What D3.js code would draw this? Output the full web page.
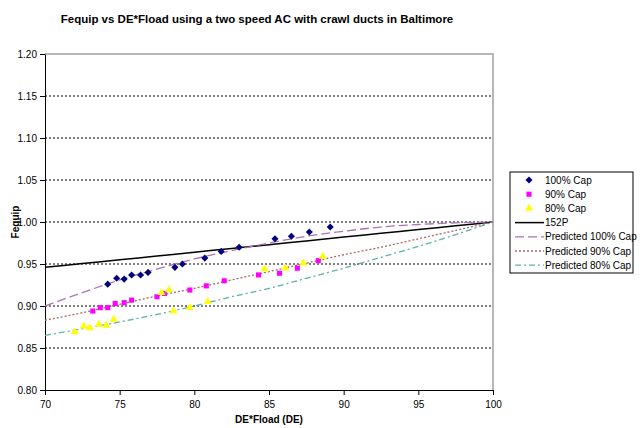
<!DOCTYPE html>
<html>
<head>
  <meta charset="utf-8">
  <title>Fequip vs DE*Fload</title>
  <script src="https://d3js.org/d3.v7.min.js"></script>
  <style>
    body { margin: 0; background: #fff; }
    text { font-family: Arial, "Liberation Sans", sans-serif; fill: #000; }
    .tick text { font-size: 10px; }
  </style>
</head>
<body>
<script>
  const width = 640;
  const height = 428;

  // measured points
  const cap100X = [74.2, 74.8, 75.3, 75.8, 76.4, 76.9, 78.7, 79.2, 80.7, 81.8, 83.0, 85.4, 86.5, 87.7, 89.1];
  const cap100Y = [0.926, 0.933, 0.932, 0.937, 0.937, 0.940, 0.946, 0.950, 0.957, 0.965, 0.970, 0.980, 0.983, 0.988, 0.994];
  const cap90X = [73.2, 73.7, 74.2, 74.7, 75.3, 75.8, 77.5, 78.0, 79.7, 80.8, 82.0, 84.3, 85.7, 86.9, 88.3];
  const cap90Y = [0.894, 0.898, 0.898, 0.903, 0.904, 0.907, 0.911, 0.915, 0.919, 0.924, 0.930, 0.937, 0.939, 0.945, 0.954];
  const cap80X = [72.0, 72.6, 73.0, 73.6, 74.1, 74.6, 77.8, 78.3, 78.6, 79.7, 80.9, 84.7, 86.1, 87.3, 88.6];
  const cap80Y = [0.869, 0.876, 0.874, 0.878, 0.877, 0.884, 0.916, 0.919, 0.894, 0.898, 0.905, 0.944, 0.945, 0.951, 0.959];

  // curves
  const curveX = [70, 72.5, 75, 77.5, 80, 82.5, 85, 87.5, 90, 92.5, 95, 97.5, 100];
  const line152P = [0.9460, 0.9505, 0.9550, 0.9595, 0.9640, 0.9685, 0.9730, 0.9775, 0.9820, 0.9865, 0.9910, 0.9955, 1.0000];
  const pred100 = [0.900, 0.916, 0.931, 0.944, 0.956, 0.966, 0.975, 0.983, 0.989, 0.994, 0.997, 0.999, 1.000];
  const pred90 = [0.883, 0.892, 0.902, 0.912, 0.921, 0.931, 0.941, 0.951, 0.961, 0.970, 0.980, 0.990, 1.000];
  const pred80 = [0.865, 0.873, 0.881, 0.890, 0.900, 0.911, 0.921, 0.933, 0.945, 0.958, 0.971, 0.985, 1.000];

  const xTicks = [70, 75, 80, 85, 90, 95, 100];
  const yTicks = [0.80, 0.85, 0.90, 0.95, 1.00, 1.05, 1.10, 1.15, 1.20];

  const plotL = 45, plotR = 493, plotT = 54, plotB = 390;

  const x = d3.scaleLinear().domain([70, 100]).range([plotL, plotR]);
  const y = d3.scaleLinear().domain([0.8, 1.2]).range([plotB, plotT]);

  const svg = d3.select("body").append("svg")
    .attr("width", width)
    .attr("height", height);

  svg.append("rect").attr("width", width).attr("height", height).attr("fill", "#fff");

  // grid
  svg.append("g")
    .selectAll("line")
    .data(yTicks.filter(v => v > 0.8 && v < 1.2))
    .join("line")
    .attr("x1", plotL).attr("x2", plotR)
    .attr("y1", d => y(d)).attr("y2", d => y(d))
    .attr("stroke", "#000")
    .attr("stroke-dasharray", "2,2");

  // plot border (top/right)
  svg.append("path")
    .attr("d", `M${plotL},${plotT}H${plotR}V${plotB}`)
    .attr("fill", "none")
    .attr("stroke", "#a0a0a0")
    .attr("stroke-width", 1.5);

  // axes
  const xAxis = svg.append("g")
    .attr("transform", `translate(0,${plotB})`)
    .call(d3.axisBottom(x).tickValues(xTicks).tickSize(5).tickPadding(6).tickSizeOuter(0));
  const yAxis = svg.append("g")
    .attr("transform", `translate(${plotL},0)`)
    .call(d3.axisLeft(y).tickValues(yTicks).tickFormat(d3.format(".2f")).tickSize(5).tickPadding(3).tickSizeOuter(0));
  [xAxis, yAxis].forEach(a => {
    a.select(".domain").attr("stroke", "#000");
    a.selectAll(".tick line").attr("stroke", "#000");
    a.selectAll(".tick text").style("font-family", "Arial, 'Liberation Sans', sans-serif").attr("fill", "#000");
  });

  // lines
  const lineGen = d3.line()
    .x((d, i) => x(curveX[i]))
    .y(d => y(d))
    .curve(d3.curveMonotoneX);

  const lines = [
    {name: "152P", values: line152P, color: "#000", width: 1.5, dash: null},
    {name: "Predicted 100% Cap", values: pred100, color: "#b070b8", width: 1.3, dash: "9,4"},
    {name: "Predicted 90% Cap", values: pred90, color: "#a86868", width: 1.3, dash: "2,2"},
    {name: "Predicted 80% Cap", values: pred80, color: "#5fb0a8", width: 1.3, dash: "6,3,2,3"}
  ];

  svg.append("clipPath").attr("id", "clip")
    .append("rect").attr("x", plotL).attr("y", plotT).attr("width", plotR - plotL).attr("height", plotB - plotT);

  svg.append("g").attr("clip-path", "url(#clip)")
    .selectAll("path")
    .data(lines)
    .join("path")
    .attr("d", d => lineGen(d.values))
    .attr("fill", "none")
    .attr("stroke", d => d.color)
    .attr("stroke-width", d => d.width)
    .attr("stroke-dasharray", d => d.dash);

  // points
  const series = [
    {name: "100% Cap", xs: cap100X, ys: cap100Y, color: "#000080", symbol: d3.symbolDiamond2, size: 32},
    {name: "90% Cap", xs: cap90X, ys: cap90Y, color: "#ff00ff", symbol: d3.symbolSquare, size: 26},
    {name: "80% Cap", xs: cap80X, ys: cap80Y, color: "#ffff00", symbol: d3.symbolTriangle, size: 28}
  ];

  series.forEach(s => {
    svg.append("g")
      .selectAll("path")
      .data(s.xs)
      .join("path")
      .attr("transform", (d, i) => `translate(${x(d)},${y(s.ys[i])})`)
      .attr("d", d3.symbol().type(s.symbol).size(s.size))
      .attr("fill", s.color);
  });

  // title
  svg.append("text")
    .attr("x", 257).attr("y", 23)
    .attr("text-anchor", "middle")
    .style("font-size", "11.5px")
    .style("font-weight", "bold")
    .text("Fequip vs DE*Fload using a two speed AC with crawl ducts in Baltimore");

  svg.append("text")
    .attr("x", (plotL + plotR) / 2).attr("y", 423)
    .attr("text-anchor", "middle")
    .style("font-size", "10px")
    .style("font-weight", "bold")
    .text("DE*Fload (DE)");

  svg.append("text")
    .attr("transform", `translate(19,${(plotT + plotB) / 2}) rotate(-90)`)
    .attr("text-anchor", "middle")
    .style("font-size", "10px")
    .style("font-weight", "bold")
    .text("Fequip");

  // legend
  const lg = svg.append("g").attr("transform", "translate(510,172)");
  lg.append("rect").attr("width", 123).attr("height", 101)
    .attr("fill", "#fff").attr("stroke", "#000").attr("stroke-width", 1);

  const items = series.map(s => ({type: "point", ...s})).concat(lines.map(l => ({type: "line", ...l})));
  const row = lg.selectAll("g.item")
    .data(items)
    .join("g")
    .attr("class", "item")
    .attr("transform", (d, i) => `translate(0,${8 + i * 14.2})`);

  row.filter(d => d.type === "point")
    .append("path")
    .attr("transform", "translate(19,0)")
    .attr("d", d => d3.symbol().type(d.symbol).size(d.size)())
    .attr("fill", d => d.color);

  row.filter(d => d.type === "line")
    .append("line")
    .attr("x1", 5).attr("x2", 34)
    .attr("stroke", d => d.color)
    .attr("stroke-width", d => d.width)
    .attr("stroke-dasharray", d => d.dash);

  row.append("text")
    .attr("x", 35)
    .attr("y", 3.5)
    .style("font-size", "10px")
    .text(d => d.name);
</script>
</body>
</html>
